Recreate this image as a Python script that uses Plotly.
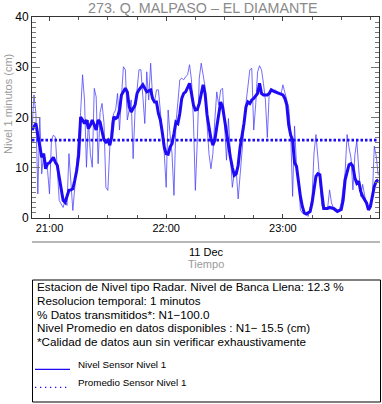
import plotly.graph_objects as go

DAY = "2023-12-11 "

# Smoothed level (thick line)
smooth_times = ["20:51","20:52","20:53","20:54","20:55","20:56","20:57","20:58","20:59","21:00",
 "21:01","21:02","21:03","21:04","21:05","21:06","21:07","21:08","21:09","21:10","21:11","21:12",
 "21:13","21:14","21:15","21:16","21:17","21:18","21:19","21:20","21:21","21:22","21:24","21:25",
 "21:26","21:28","21:29","21:30","21:31","21:32","21:33","21:34","21:35","21:36","21:37","21:39",
 "21:40","21:41","21:42","21:44","21:45","21:46","21:48","21:49","21:50","21:52","21:53","21:54",
 "21:55","21:56","21:57","21:58","21:59","22:00","22:01","22:02","22:03","22:04","22:05","22:06",
 "22:07","22:08","22:09","22:10","22:12","22:13","22:14","22:15","22:16","22:17","22:18","22:19",
 "22:20","22:21","22:22","22:23","22:24","22:25","22:26","22:27","22:28","22:29","22:30","22:31",
 "22:32","22:33","22:34","22:35","22:36","22:37","22:38","22:40","22:41","22:42","22:43","22:44",
 "22:45","22:47","22:48","22:49","22:50","22:52","22:53","22:54","22:56","22:58","23:00","23:01",
 "23:02","23:03","23:04","23:05","23:06","23:07","23:08","23:09","23:10","23:11","23:12","23:14",
 "23:15","23:16","23:17","23:18","23:19","23:20","23:21","23:23","23:24","23:26","23:27","23:28",
 "23:30","23:31","23:32","23:34","23:35","23:36","23:37","23:38","23:39","23:40","23:41","23:43",
 "23:44","23:45","23:46","23:47","23:48","23:49"]
smooth_vals = [17.5,18.2,18.8,16.5,14.1,12.1,12.8,9.8,10.8,11.0,
 11.5,12.1,11.1,10.5,8.1,6.1,3.5,3.1,4.5,5.5,5.6,5.8,
 7.5,9.5,12.5,20.1,19.5,18.8,19.5,17.8,18.5,19.5,17.5,19.5,
 19.1,15.5,15.1,15.5,14.5,16.1,20.1,19.8,20.1,21.5,24.5,25.8,
 25.1,22.1,21.1,22.5,24.8,25.5,26.5,25.8,25.1,25.5,23.8,23.1,
 23.1,20.8,19.5,17.0,14.1,12.8,12.7,14.1,14.8,16.8,19.1,18.8,
 20.8,23.8,24.8,25.1,26.8,24.8,22.5,21.5,21.6,22.8,25.1,26.5,
 24.8,20.5,18.1,15.8,14.5,15.5,18.1,20.8,23.1,22.1,19.5,16.8,
 14.1,12.1,10.1,8.5,8.8,10.5,14.1,18.8,22.1,23.1,22.8,23.5,
 23.8,24.8,26.8,24.8,24.5,24.5,24.8,25.5,25.1,24.8,24.5,23.8,
 22.5,18.5,16.5,15.5,11.0,10.3,7.1,4.3,2.3,1.0,0.8,1.3,
 3.0,5.6,8.3,8.8,8.6,5.0,1.9,1.9,2.1,1.9,1.6,1.3,
 1.7,3.6,7.6,10.6,10.8,10.3,8.0,6.9,7.3,5.3,4.3,3.0,
 1.6,2.3,4.3,6.3,7.3,7.6]

# Raw 1-minute level (thin line)
raw_times = ["20:51","20:52","20:53","20:54","20:55","20:56","20:57","20:58","20:59","21:00",
 "21:01","21:02","21:03","21:04","21:05","21:06","21:07","21:08","21:09","21:10","21:11","21:12",
 "21:13","21:14","21:15","21:16","21:17","21:18","21:19","21:20","21:21","21:22","21:23","21:24",
 "21:25","21:26","21:27","21:28","21:29","21:30","21:31","21:32","21:33","21:34","21:35","21:36",
 "21:37","21:38","21:39","21:40","21:42","21:43","21:44","21:45","21:46","21:47","21:48","21:49",
 "21:50","21:51","21:52","21:53","21:54","21:55","21:56","21:57","21:58","21:59","22:00","22:01",
 "22:02","22:03","22:04","22:05","22:06","22:07","22:08","22:09","22:10","22:11","22:12","22:13",
 "22:14","22:15","22:16","22:17","22:18","22:19","22:20","22:21","22:22","22:23","22:24","22:25",
 "22:26","22:27","22:28","22:29","22:30","22:31","22:32","22:33","22:34","22:35","22:36","22:37",
 "22:38","22:39","22:40","22:41","22:42","22:43","22:44","22:45","22:46","22:47","22:48","22:49",
 "22:50","22:51","22:52","22:53","22:54","22:55","22:56","22:57","22:58","22:59","23:00","23:01",
 "23:02","23:03","23:04","23:05","23:06","23:07","23:08","23:09","23:10","23:11","23:12","23:13",
 "23:14","23:15","23:16","23:17","23:18","23:19","23:20","23:21","23:22","23:23","23:24","23:25",
 "23:26","23:27","23:28","23:29","23:30","23:32","23:33","23:34","23:35","23:36","23:37","23:38",
 "23:39","23:40","23:41","23:42","23:43","23:44","23:45","23:46","23:47","23:48","23:49"]
raw_vals = [17.5,24.5,20.8,4.8,20.1,8.8,12.8,11.5,9.5,4.8,
 15.5,16.5,16.1,9.5,3.5,2.8,2.1,3.5,2.5,12.8,7.5,1.5,
 6.1,10.8,15.5,21.0,28.5,23.5,10.1,19.5,12.8,10.1,25.8,24.1,
 10.8,21.0,22.8,19.0,6.1,5.5,14.1,18.8,20.8,21.5,24.8,17.5,
 24.1,30.1,29.5,19.5,23.5,11.8,21.5,25.5,29.5,29.5,25.0,18.8,
 29.1,23.5,30.8,24.1,23.0,25.5,25.5,21.5,17.5,12.8,6.1,21.5,
 16.5,12.8,4.5,18.8,23.0,27.5,27.8,27.5,28.1,28.5,30.5,27.5,
 19.5,5.5,15.5,27.8,30.8,28.1,26.1,18.8,12.8,9.8,12.8,19.5,
 25.1,22.5,25.5,25.8,19.0,11.5,19.8,11.5,6.1,8.8,9.5,3.8,
 9.0,12.8,18.0,22.8,26.1,29.5,29.8,17.5,22.5,29.1,30.3,29.5,
 26.8,23.5,16.0,25.1,25.5,25.0,25.5,25.1,24.8,24.5,26.5,25.1,
 23.5,22.0,17.0,4.3,18.3,10.5,8.0,1.6,1.0,0.8,1.2,0.3,
 2.0,4.0,12.9,16.6,12.0,6.7,2.5,1.6,2.0,1.9,5.6,3.0,
 2.0,2.0,1.6,1.6,3.0,9.1,16.6,14.0,12.0,5.6,12.5,15.3,
 9.8,4.3,6.7,4.3,2.5,1.6,3.0,4.3,14.3,12.3,8.5]

mean_level = 15.5
mean_times = ["20:51", "23:49"]

y_ticks = [0, 10, 20, 30, 40]

info_lines = [
    "Estacion de Nivel tipo Radar. Nivel de Banca Llena: 12.3 %",
    "Resolucion temporal: 1 minutos",
    "% Datos transmitidos*: N1\u2212100.0",
    "Nivel Promedio en datos disponibles : N1\u2212 15.5 (cm)",
    "*Calidad de datos aun sin verificar exhaustivamente",
]
legend_labels = ["Nivel Sensor Nivel 1", "Promedio Sensor Nivel 1"]
title_text = "273. Q. MALPASO \u2013 EL DIAMANTE"

# ---- layout helpers (pixel -> paper) ----
L, R, T, B = 32, 379, 17, 218
W, H = R - L, B - T
def px(x): return (x - L) / W
def py(y): return (B - y) / H

BLUE = "rgb(30,10,245)"

fig = go.Figure()
fig.add_trace(go.Scatter(x=[DAY + t for t in raw_times], y=raw_vals, mode="lines",
                         line=dict(color="rgba(70,60,250,0.75)", width=1), showlegend=False))
fig.add_trace(go.Scatter(x=[DAY + t for t in smooth_times], y=smooth_vals, mode="lines",
                         line=dict(color=BLUE, width=3), showlegend=False))
fig.add_trace(go.Scatter(x=[DAY + t for t in mean_times], y=[mean_level] * len(mean_times), mode="lines",
                         line=dict(color=BLUE, width=2.6, dash="2.5px,2px"), showlegend=False))

fig.update_xaxes(
    type="date", range=[DAY + "20:51:00", DAY + "23:49:25"],
    tickformat="%H:%M", tick0=DAY + "21:00", dtick=3600000,
    ticks="inside", ticklen=4, tickcolor="#444", showline=True, linecolor="#333", linewidth=1,
    mirror="ticks", showgrid=False, zeroline=False,
    tickfont=dict(family="Liberation Sans, Arial", size=11, color="black"),
    minor=dict(dtick=900000, tick0=DAY + "21:00", ticks="inside", ticklen=3, tickcolor="#555", showgrid=False),
)
fig.update_yaxes(
    range=[0, 40], tickvals=y_ticks, ticks="inside", ticklen=8, tickcolor="#777",
    showline=True, linecolor="#333", linewidth=1, mirror="ticks", showgrid=False, zeroline=False,
    tickfont=dict(family="Liberation Sans, Arial", size=12, color="black"),
    minor=dict(dtick=1, ticks="inside", ticklen=4, tickcolor="#777", showgrid=False),
)

ann = []
FONT = "Liberation Sans, Arial"
ann.append(dict(text=title_text, x=px(203), y=py(8), xref="paper", yref="paper", showarrow=False,
                xanchor="center", yanchor="middle", font=dict(family=FONT, size=14.3, color="#8a8a8a")))
ann.append(dict(text="Nivel 1 minutos (cm)", x=px(8), y=py(104), xref="paper", yref="paper",
                showarrow=False, textangle=-90, xanchor="center", yanchor="middle",
                font=dict(family=FONT, size=11, color="#9a9a9a")))
ann.append(dict(text="11 Dec", x=px(206), y=py(252), xref="paper", yref="paper", showarrow=False,
                xanchor="center", yanchor="middle", font=dict(family=FONT, size=11, color="black")))
ann.append(dict(text="Tiempo", x=px(206), y=py(264), xref="paper", yref="paper", showarrow=False,
                xanchor="center", yanchor="middle", font=dict(family=FONT, size=11, color="#9a9a9a")))
line_y = [286.7, 300.3, 314, 327.6, 341.2]
for txt, yy in zip(info_lines, line_y):
    ann.append(dict(text=txt, x=px(35), y=py(yy), xref="paper", yref="paper", showarrow=False,
                    xanchor="left", yanchor="middle", font=dict(family=FONT, size=11.7, color="black")))
for txt, yy in zip(legend_labels, [364.5, 382.5]):
    ann.append(dict(text=txt, x=px(76), y=py(yy), xref="paper", yref="paper", showarrow=False,
                    xanchor="left", yanchor="middle", font=dict(family=FONT, size=9.8, color="black")))

shapes = [
    dict(type="line", xref="paper", yref="paper", x0=px(32), x1=px(380), y0=py(242), y1=py(242),
         line=dict(color="#a0a0a0", width=1.5)),
    dict(type="rect", xref="paper", yref="paper", x0=px(32.5), x1=px(380.5), y0=py(280), y1=py(402),
         line=dict(color="black", width=1)),
    dict(type="line", xref="paper", yref="paper", x0=px(35), x1=px(70), y0=py(369.3), y1=py(369.3),
         line=dict(color=BLUE, width=1.3)),
    dict(type="line", xref="paper", yref="paper", x0=px(35), x1=px(70), y0=py(387.3), y1=py(387.3),
         line=dict(color=BLUE, width=1.3, dash="1.3px,3.7px")),
]

fig.update_layout(
    width=382, height=404, margin=dict(l=L, r=382 - R, t=T, b=404 - B),
    plot_bgcolor="white", paper_bgcolor="white", showlegend=False,
    annotations=ann, shapes=shapes, font=dict(family=FONT),
)
fig.write_html("out.html", config={"displayModeBar": False},
               post_script="document.body.style.margin='0';document.body.style.overflow='hidden';")
